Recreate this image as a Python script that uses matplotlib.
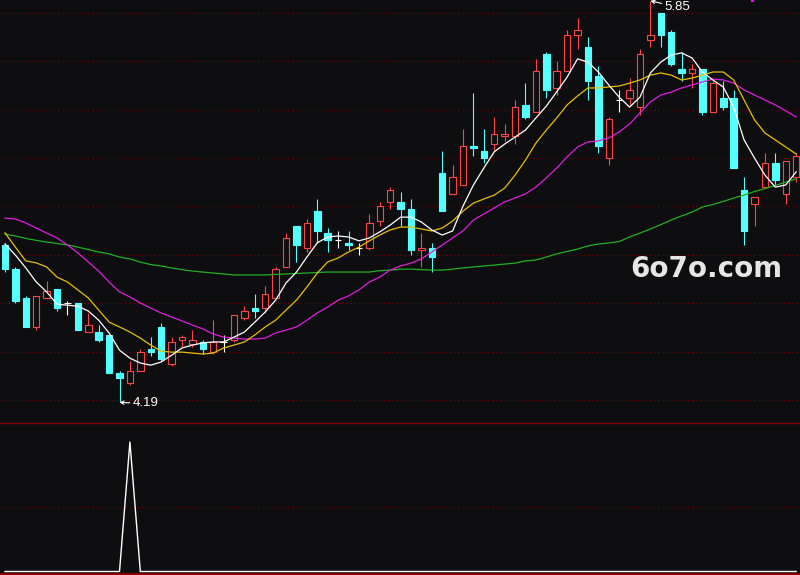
import matplotlib
matplotlib.use("Agg")
import matplotlib.pyplot as plt
from matplotlib.lines import Line2D
from matplotlib.patches import Rectangle

# ---------------- data ----------------
opens = [4.84, 4.74, 4.62, 4.50, 4.62, 4.66, 4.60, 4.60, 4.48, 4.48,
         4.47, 4.31, 4.27, 4.32, 4.41, 4.50, 4.35, 4.45, 4.43, 4.44,
         4.40, 4.44, 4.45, 4.54, 4.58, 4.58, 4.62, 4.75, 4.92, 4.83,
         4.98, 4.89, 4.86, 4.85, 4.83, 4.83, 4.94, 5.02, 5.02, 4.99,
         4.82, 4.83, 5.14, 5.05, 5.09, 5.25, 5.23, 5.26, 5.29, 5.29,
         5.42, 5.39, 5.63, 5.49, 5.56, 5.71, 5.66, 5.54, 5.20, 5.44,
         5.45, 5.41, 5.69, 5.80, 5.72, 5.57, 5.55, 5.57, 5.39, 5.45,
         5.45, 5.07, 5.01, 5.08, 5.18, 5.05, 5.12]
highs = [4.85, 4.75, 4.63, 4.63, 4.69, 4.66, 4.61, 4.60, 4.56, 4.51,
         4.47, 4.32, 4.36, 4.41, 4.46, 4.52, 4.46, 4.47, 4.49, 4.45,
         4.53, 4.47, 4.55, 4.59, 4.64, 4.67, 4.75, 4.89, 4.92, 4.95,
         5.03, 4.91, 4.90, 4.90, 4.85, 4.97, 5.02, 5.08, 5.06, 5.03,
         4.89, 4.85, 5.23, 5.17, 5.32, 5.47, 5.32, 5.37, 5.34, 5.44,
         5.51, 5.61, 5.64, 5.60, 5.73, 5.78, 5.70, 5.58, 5.37, 5.48,
         5.53, 5.65, 5.85, 5.80, 5.73, 5.64, 5.59, 5.57, 5.52, 5.52,
         5.48, 5.12, 5.04, 5.22, 5.22, 5.19, 5.22]
lows = [4.73, 4.60, 4.50, 4.49, 4.62, 4.57, 4.55, 4.49, 4.48, 4.44,
        4.31, 4.19, 4.26, 4.32, 4.38, 4.36, 4.34, 4.42, 4.42, 4.39,
        4.39, 4.40, 4.44, 4.53, 4.54, 4.56, 4.62, 4.75, 4.77, 4.81,
        4.85, 4.81, 4.83, 4.82, 4.80, 4.82, 4.92, 4.99, 4.92, 4.80,
        4.75, 4.73, 4.98, 5.05, 5.09, 5.21, 5.18, 5.23, 5.27, 5.26,
        5.36, 5.39, 5.45, 5.46, 5.56, 5.65, 5.44, 5.22, 5.17, 5.39,
        5.42, 5.38, 5.66, 5.66, 5.58, 5.52, 5.49, 5.38, 5.39, 5.40,
        5.16, 4.84, 4.92, 5.08, 5.09, 5.01, 5.10]
closes = [4.74, 4.61, 4.50, 4.63, 4.65, 4.58, 4.60, 4.49, 4.51, 4.45,
          4.31, 4.29, 4.32, 4.40, 4.40, 4.37, 4.44, 4.46, 4.45, 4.41,
          4.44, 4.44, 4.55, 4.57, 4.57, 4.64, 4.74, 4.87, 4.84, 4.93,
          4.90, 4.86, 4.86, 4.84, 4.83, 4.93, 5.00, 5.07, 4.99, 4.82,
          4.83, 4.79, 4.98, 5.12, 5.25, 5.24, 5.20, 5.30, 5.30, 5.41,
          5.37, 5.56, 5.48, 5.56, 5.71, 5.73, 5.52, 5.25, 5.36, 5.44,
          5.48, 5.63, 5.71, 5.71, 5.59, 5.55, 5.57, 5.39, 5.51, 5.41,
          5.16, 4.90, 5.04, 5.18, 5.11, 5.19, 5.21]

ma5 = [4.845, 4.799, 4.746, 4.688, 4.647, 4.596, 4.592, 4.588, 4.568, 4.530,
       4.477, 4.406, 4.373, 4.353, 4.344, 4.357, 4.385, 4.415, 4.427, 4.436,
       4.440, 4.440, 4.460, 4.481, 4.522, 4.564, 4.613, 4.684, 4.729, 4.791,
       4.850, 4.874, 4.878, 4.874, 4.858, 4.870, 4.895, 4.923, 4.956, 4.956,
       4.936, 4.903, 4.882, 4.899, 5.002, 5.089, 5.159, 5.226, 5.258, 5.287,
       5.316, 5.366, 5.415, 5.474, 5.535, 5.610, 5.597, 5.556, 5.502, 5.452,
       5.411, 5.452, 5.552, 5.597, 5.626, 5.635, 5.614, 5.556, 5.523, 5.494,
       5.411, 5.275, 5.200, 5.130, 5.080, 5.089, 5.143]
ma10 = [4.891, 4.832, 4.775, 4.767, 4.750, 4.708, 4.688, 4.655, 4.622, 4.572,
        4.522, 4.502, 4.481, 4.456, 4.427, 4.402, 4.398, 4.398, 4.394, 4.390,
        4.394, 4.415, 4.427, 4.440, 4.469, 4.502, 4.530, 4.572, 4.613, 4.667,
        4.725, 4.771, 4.787, 4.812, 4.832, 4.858, 4.882, 4.903, 4.915, 4.915,
        4.907, 4.899, 4.911, 4.940, 4.981, 5.014, 5.031, 5.047, 5.076, 5.130,
        5.192, 5.262, 5.316, 5.366, 5.420, 5.457, 5.490, 5.490, 5.494, 5.498,
        5.510, 5.523, 5.543, 5.552, 5.543, 5.523, 5.531, 5.543, 5.556, 5.556,
        5.523, 5.440, 5.358, 5.304, 5.275, 5.246, 5.217]
ma20 = [4.952, 4.948, 4.932, 4.911, 4.890, 4.870, 4.841, 4.808, 4.771, 4.733,
        4.688, 4.647, 4.626, 4.601, 4.580, 4.560, 4.543, 4.527, 4.510, 4.494,
        4.473, 4.460, 4.456, 4.452, 4.452, 4.456, 4.477, 4.489, 4.502, 4.530,
        4.560, 4.584, 4.613, 4.630, 4.655, 4.688, 4.708, 4.737, 4.754, 4.766,
        4.783, 4.812, 4.841, 4.870, 4.899, 4.944, 4.969, 4.994, 5.019, 5.035,
        5.052, 5.080, 5.118, 5.159, 5.205, 5.246, 5.267, 5.271, 5.283, 5.308,
        5.341, 5.387, 5.432, 5.461, 5.473, 5.490, 5.502, 5.515, 5.527, 5.523,
        5.510, 5.482, 5.461, 5.440, 5.420, 5.395, 5.370]
ma60 = [4.886, 4.878, 4.868, 4.860, 4.853, 4.847, 4.841, 4.832, 4.822, 4.812,
        4.804, 4.791, 4.783, 4.770, 4.760, 4.754, 4.746, 4.739, 4.733, 4.729,
        4.725, 4.721, 4.717, 4.717, 4.717, 4.717, 4.719, 4.721, 4.723, 4.725,
        4.727, 4.729, 4.729, 4.729, 4.729, 4.729, 4.735, 4.737, 4.741, 4.741,
        4.739, 4.737, 4.737, 4.741, 4.746, 4.750, 4.754, 4.758, 4.762, 4.766,
        4.775, 4.779, 4.791, 4.804, 4.814, 4.824, 4.837, 4.845, 4.849, 4.855,
        4.874, 4.890, 4.907, 4.925, 4.944, 4.961, 4.977, 4.998, 5.008, 5.021,
        5.035, 5.047, 5.062, 5.074, 5.087, 5.101, 5.114]
signal = [0, 0, 0, 0, 0, 0, 0, 0, 0, 0,
          0, 0, 1, 0, 0, 0, 0, 0, 0, 0,
          0, 0, 0, 0, 0, 0, 0, 0, 0, 0,
          0, 0, 0, 0, 0, 0, 0, 0, 0, 0,
          0, 0, 0, 0, 0, 0, 0, 0, 0, 0,
          0, 0, 0, 0, 0, 0, 0, 0, 0, 0,
          0, 0, 0, 0, 0, 0, 0, 0, 0, 0,
          0, 0, 0, 0, 0, 0, 0]
price_grid = [4.2, 4.4, 4.6, 4.8, 5.0, 5.2, 5.4, 5.6, 5.8]
signal_grid = [0.5]
high_label = "5.85"
low_label = "4.19"
watermark = "6o7o.com"

# ---------------- style ----------------
BG = "#0e0e11"
RED = "#ff4646"
CYAN = "#54ffff"
GRID = "#8c0000"
W, H = 800, 575

fig = plt.figure(figsize=(8, 5.75), dpi=100, facecolor=BG)
main_h = 422
ax = fig.add_axes([0, (H - main_h) / H, 1, main_h / H], facecolor=BG)
ax2 = fig.add_axes([0, 0, 1, (H - main_h) / H], facecolor=BG)

n = len(closes)
xs = list(range(n))
for a in (ax, ax2):
    a.set_xlim(-0.48, 76.37)
    a.set_axis_off()

ax.set_ylim(4.1091, 5.8536)
ax2.set_ylim(-0.027, 1.1544)

for g in price_grid:
    ax.axhline(g, color=GRID, lw=0.75, ls=(0, (1, 3)), zorder=1)
for g in signal_grid:
    ax2.axhline(g, color=GRID, lw=0.75, ls=(0, (1, 3)), zorder=1)

bw = 0.62
for i in xs:
    o, h, l, c = opens[i], highs[i], lows[i], closes[i]
    if abs(c - o) < 1e-9:
        ax.vlines(i, l, h, color="white", lw=0.8, zorder=3)
        ax.hlines(c, i - bw / 2, i + bw / 2, color="white", lw=0.8, zorder=3)
    elif c > o:
        ax.vlines(i, c, h, color=RED, lw=0.8, zorder=3)
        ax.vlines(i, l, o, color=RED, lw=0.8, zorder=3)
        ax.bar(i, c - o, bottom=o, width=bw, facecolor=BG, edgecolor=RED,
               linewidth=0.8, zorder=3)
    else:
        ax.vlines(i, l, h, color=CYAN, lw=0.8, zorder=3)
        ax.bar(i, max(o - c, 0.004), bottom=c, width=bw, facecolor=CYAN,
               edgecolor=CYAN, linewidth=0.8, zorder=3)

ax.plot(xs, ma60, color="#22b022", lw=0.9, zorder=4)
ax.plot(xs, ma20, color="#e01ee0", lw=0.9, zorder=4)
ax.plot(xs, ma10, color="#e6c000", lw=0.9, zorder=4)
ax.plot(xs, ma5, color="#ffffff", lw=0.9, zorder=5)

imax = highs.index(max(highs))
imin = lows.index(min(lows))
ax.annotate(high_label, xy=(imax, highs[imax]), xytext=(14, -6),
            textcoords="offset pixels", color="white", fontsize=9.5,
            family="Liberation Sans", ha="left", va="center", zorder=6,
            arrowprops=dict(arrowstyle="->", color="white", lw=0.8,
                            shrinkA=0, shrinkB=0, mutation_scale=6))
ax.annotate(low_label, xy=(imin, lows[imin]), xytext=(13, -1),
            textcoords="offset pixels", color="white", fontsize=9.5,
            family="Liberation Sans", ha="left", va="center", zorder=6,
            arrowprops=dict(arrowstyle="->", color="white", lw=0.8,
                            shrinkA=0, shrinkB=0, mutation_scale=6))

ax2.plot(xs, signal, color="white", lw=1.0, zorder=4)

# panel divider and bottom border
fig.add_artist(Line2D([0, 1], [1 - 422.5 / H, 1 - 422.5 / H], transform=fig.transFigure,
                      color="#800000", lw=1.0))
fig.add_artist(Line2D([0, 1], [1.3 / H, 1.3 / H], transform=fig.transFigure,
                      color="#800000", lw=1.6))
fig.add_artist(Rectangle((751 / W, 1 - 2 / H), 3 / W, 2 / H, transform=fig.transFigure,
                         color="#ff00ff", lw=0))

fig.text(630 / W, 1 - 277 / H, watermark, fontsize=20, fontweight="bold",
         color="#e6e6e6", family="DejaVu Sans", ha="left", va="baseline")

fig.savefig("out.png", dpi=100, facecolor=BG)
